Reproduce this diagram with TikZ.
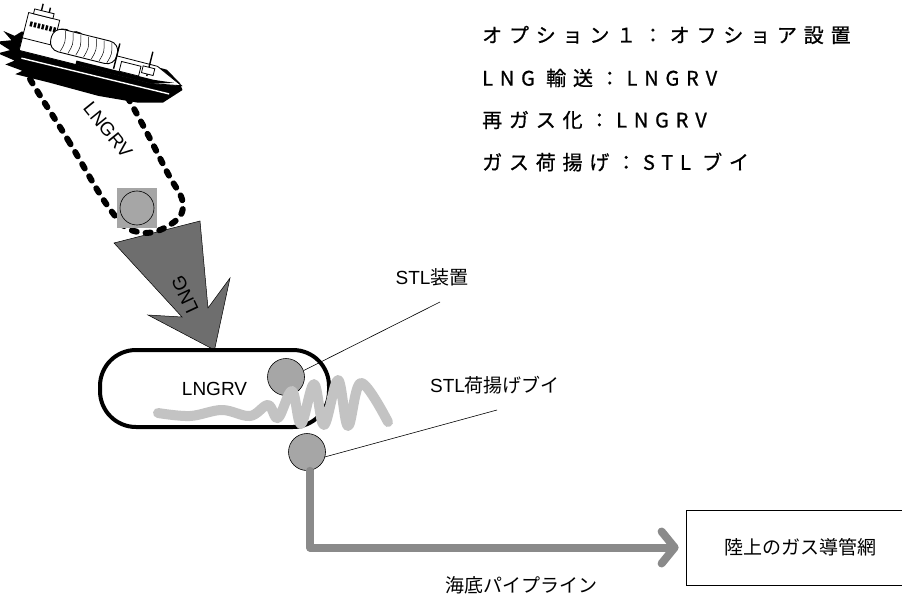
\documentclass[tikz,border=0pt]{standalone}
\usepackage{fontspec}
\setmainfont{Liberation Sans}
\newfontfamily\jpfont{Noto Sans CJK JP}
\newfontfamily\jptitle[LetterSpace=34,FakeBold=0.8]{Noto Sans CJK JP}
\usepackage{xcolor}
\usetikzlibrary{arrows.meta}

\definecolor{shade}{HTML}{A6A6A6}
\definecolor{lngflow}{HTML}{6E6E6E}
\definecolor{wake}{HTML}{C3C3C3}
\definecolor{pipegray}{HTML}{8A8A8A}

\begin{document}
\begin{tikzpicture}[x=1pt,y=-1pt,
    lbl/.style={font=\fontsize{19}{22}\selectfont, inner sep=0pt},
    ttl/.style={anchor=west, inner sep=0pt, font=\jptitle\fontsize{20}{24}\selectfont},
    ball/.style={circle, draw, fill=shade, line width=0.6pt, minimum size=37pt, inner sep=0pt},
    leader/.style={line width=0.6pt},
    pipe/.style={pipegray, line width=8pt, line cap=round, line join=round,
                 -{Straight Barb[length=13pt,width=32pt,round]}}]
\useasboundingbox (0,0) rectangle (902,599);

% gas flow from the carrier down to the regas vessel
\filldraw[fill=lngflow, line width=0.5pt] (114,243) -- (182,317) -- (148,315) -- (214.5,350)
    -- (230,278) -- (208,308) -- (200,221) -- cycle;
\node[lbl, rotate=115] (lnglbl) at (185,295) {LNG};

% shuttle route of the LNGRV
\draw[line width=6pt, line cap=round, dash pattern=on 5pt off 9pt]
    plot[smooth cycle, tension=0.7] coordinates {(22,64) (68,140) (112,212) (138,232)
    (168,226) (183,205) (166,170) (133,107) (100,52) (75,34) (45,34) (26,48)};
\node[lbl, rotate=-51] (route) at (108,130) {LNGRV};
\node[fill=shade, minimum size=40pt, inner sep=0pt] (port) at (137,208) {};
\node[ball, minimum size=34pt] (portball) at (port) {};

% carrier
\begin{scope}[shift={(18,47)}, rotate=-14]
  \fill (0,-16) -- (-6,-10) -- (-18,-12) -- (-8,-5) -- (-22,0) -- (-7,5) -- (-18,11) -- (0,14)
    -- (-8,20) -- (10,22) -- (4,27) -- (40,27) -- (90,28) -- (130,25) -- (154,19) -- (170,2)
    -- (166,-4) -- (150,-14) -- cycle;
  \draw[white, line width=1.4pt] (6,10) -- (158,9);
  \filldraw[fill=white, line width=0.8pt] (2,-16) -- (140,-15) -- (168,-2) -- (140,3) -- (2,3) -- cycle;
  \fill (60,-1) -- (140,-1) -- (160,-3) -- (140,3) -- (60,3) -- cycle;
  % accommodation
  \filldraw[fill=white, line width=0.8pt] (2,-36) rectangle (34,-10);
  \foreach \wx in {6,10,...,30}
    \fill (\wx,-28) rectangle ++(2.4,5);
  \filldraw[fill=white, line width=0.8pt] (7,-41) rectangle (27,-36);
  \draw[line width=1.4pt] (14,-48) -- (14,-41);
  \draw[line width=1.4pt] (22,-46) -- (22,-41);
  % tank
  \filldraw[fill=white, line width=0.9pt, rounded corners=10pt] (30,-28) rectangle (98,-5);
  \foreach \rx in {42,50,...,90}
    \draw[line width=0.5pt] (\rx,-27) .. controls (\rx+3,-16) .. (\rx,-6);
  % fore deck
  \filldraw[fill=white, line width=0.8pt] (104,-11) rectangle (124,-1);
  \draw[line width=1.4pt] (98,-2) -- (98,-28);
  \draw[line width=1.4pt] (132,-3) -- (132,-28);
  \filldraw[fill=white, line width=0.8pt] (126,-12) rectangle (138,-5);
\end{scope}

% regas vessel with STL
\node[lbl, draw, line width=4pt, rounded corners=36pt, minimum width=229pt,
      minimum height=77pt] (rv) at (214.5,388.5) {LNGRV};
\node[ball] (stl) at (286,377) {};
\draw[wake, line width=10pt, line cap=round, line join=round]
    plot[smooth, tension=0.6] coordinates {(158,413) (190,416) (222,410) (250,416) (268,405)
    (278,418) (292,391) (301,424) (314,384) (324,425) (338,380) (348,426) (361,383) (388,422)};
\node[ball] (buoy) at (307,452) {};

% labels and leaders
\node[lbl] (stlname) at (432,277) {STL{\jpfont 装置}};
\coordinate (stlend) at (440,302);
\draw[leader] (stl.20) -- (stlend);
\node[lbl] (buoyname) at (495,385) {STL{\jpfont 荷揚げブイ}};
\coordinate (buoyend) at (497,410);
\draw[leader] (buoy.-15) -- (buoyend);

% subsea pipeline to shore
\node[lbl, draw, line width=0.8pt, minimum width=228pt, minimum height=75pt,
      font=\jpfont\fontsize{19}{22}\selectfont] (land) at (800,547.5) {陸上のガス導管網};
\draw[pipe, shorten >=7pt] ([xshift=3pt]buoy.south) |- (land.west);
\node[lbl, font=\jpfont\fontsize{19}{22}\selectfont] (pipename) at (521,585) {海底パイプライン};

% option summary
\node[ttl] (opt) at (482,35) {オプション１：オフショア設置};
\node[ttl] (ship) at (482,78) {LNG 輸送：LNGRV};
\node[ttl] (regas) at (482,120) {再ガス化：LNGRV};
\node[ttl] (unload) at (482,162) {ガス荷揚げ：STL ブイ};
\end{tikzpicture}
\end{document}
